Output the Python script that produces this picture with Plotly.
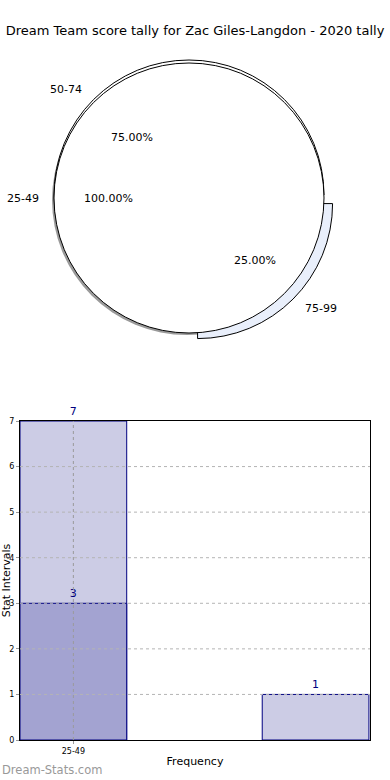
import math
import plotly.graph_objects as go

# ---------------- data ----------------
title_text = "Dream Team score tally for Zac Giles-Langdon - 2020 tally"

pie_a_labels = ["25-49"]
pie_a_values = [100.0]

pie_b_labels = ["50-74", "75-99"]
pie_b_values = [75.0, 25.0]
pie_b_pull = [0.0, 0.09]

bar_light_slots = [0, 2.27]
bar_light_values = [7, 1]
bar_dark_slots = [0]
bar_dark_values = [3]
x_tick_vals = [0]
x_tick_text = ["25-49"]
y_ticks = [0, 1, 2, 3, 4, 5, 6, 7]

# ---------------- layout constants ----------------
W, H = 390, 780
FONT = "DejaVu Sans"
R = 135  # pie radius, px


def pie_domain(cx, cy, r, pull=0.0):
    half = r * (1 + pull)
    return dict(x=[(cx - half) / W, (cx + half) / W],
                y=[1 - (cy + half) / H, 1 - (cy - half) / H])


fig = go.Figure()

# shadow of the full pie
fig.add_trace(go.Pie(labels=pie_a_labels, values=pie_a_values, sort=False,
                     marker=dict(colors=["#9a9a9a"], line=dict(width=0)),
                     textinfo="none", hoverinfo="skip", showlegend=False,
                     domain=pie_domain(187, 200, R)))
# pie B (50-74 / 75-99) with exploded slice
fig.add_trace(go.Pie(labels=pie_b_labels, values=pie_b_values, sort=False,
                     direction="clockwise", rotation=180, pull=pie_b_pull,
                     marker=dict(colors=["#ffffff", "#e9effb"],
                                 line=dict(color="#000000", width=1)),
                     textinfo="none", hoverinfo="skip", showlegend=False,
                     domain=pie_domain(189, 195, R, max(pie_b_pull))))
# pie A (25-49, 100%)
fig.add_trace(go.Pie(labels=pie_a_labels, values=pie_a_values, sort=False,
                     marker=dict(colors=["#ffffff"], line=dict(color="#000000", width=1)),
                     textinfo="none", hoverinfo="skip", showlegend=False,
                     domain=pie_domain(189, 198, R)))

annotations = []


def pie_texts(labels, values, cx, cy, pulls=None):
    total = sum(values)
    start = 0.0
    for i, (lab, v) in enumerate(zip(labels, values)):
        frac = v / total
        mid = math.radians((start + frac / 2) * 360)  # ccw from east
        start += frac
        p = pulls[i] if pulls else 0.0
        c, s = math.cos(mid), math.sin(mid)
        lx = cx + (1.1 + p) * R * c
        ly = cy - (1.1 + p) * R * s
        px_ = cx + (0.6 + p) * R * c
        py_ = cy - (0.6 + p) * R * s
        annotations.append(dict(x=lx / W, y=1 - ly / H, xref="paper", yref="paper",
                                text=lab, showarrow=False,
                                xanchor="right" if c < -1e-9 else ("left" if c > 1e-9 else "center"),
                                yanchor="middle",
                                font=dict(family=FONT, size=11, color="#000")))
        annotations.append(dict(x=px_ / W, y=1 - py_ / H, xref="paper", yref="paper",
                                text=f"{frac * 100:.2f}%", showarrow=False,
                                xanchor="center", yanchor="middle",
                                font=dict(family=FONT, size=11, color="#000")))


pie_texts(pie_a_labels, pie_a_values, 189, 198)
pie_texts(pie_b_labels, pie_b_values, 189, 195, pie_b_pull)

# ---------------- bars ----------------
fig.add_trace(go.Bar(x=bar_light_slots, y=bar_light_values, width=1,
                     text=[str(v) for v in bar_light_values], textposition="outside",
                     cliponaxis=False,
                     textfont=dict(family=FONT, size=11, color="#000080"),
                     marker=dict(color="#ccccE5", line=dict(color="#000080", width=1)),
                     hoverinfo="skip", showlegend=False))
fig.add_trace(go.Bar(x=bar_dark_slots, y=bar_dark_values, width=1,
                     text=[str(v) for v in bar_dark_values], textposition="outside",
                     cliponaxis=False,
                     textfont=dict(family=FONT, size=11, color="#000080"),
                     marker=dict(color="#a3a3d1", line=dict(color="#000080", width=1)),
                     hoverinfo="skip", showlegend=False))

x_range = [-0.5, 2.78]

shapes = []
for yv in y_ticks[1:-1]:
    shapes.append(dict(type="line", xref="x domain", yref="y", x0=0, x1=1, y0=yv, y1=yv,
                       line=dict(color="#b4b4b4", width=1, dash="dot"), layer="above"))
for xv in x_tick_vals:
    shapes.append(dict(type="line", xref="x", yref="y domain", x0=xv, x1=xv, y0=0, y1=1,
                       line=dict(color="#9a9a9a", width=1, dash="dot"), layer="above"))

annotations.append(dict(x=0, y=1 - 770 / H, xref="paper", yref="paper", text="Dream-Stats.com",
                        showarrow=False, xanchor="left", yanchor="middle",
                        font=dict(family=FONT, size=11.5, color="#999999")))

fig.update_layout(
    width=W, height=H,
    margin=dict(l=0, r=0, t=0, b=0),
    paper_bgcolor="#ffffff", plot_bgcolor="#ffffff",
    barmode="overlay",
    title=dict(text=title_text, x=0.5, xanchor="center", y=1 - 30 / H, yanchor="middle",
               font=dict(family=FONT, size=13, color="#000")),
    font=dict(family=FONT, color="#000"),
    xaxis=dict(domain=[20 / W, 370 / W], range=x_range, tickmode="array",
               tickvals=x_tick_vals, ticktext=x_tick_text, tickfont=dict(size=8, color="#000"),
               ticks="outside", ticklen=3, tickcolor="#999", showgrid=False, zeroline=False,
               showline=True, mirror=True, linecolor="#000", linewidth=1, automargin=False,
               title=dict(text="Frequency", font=dict(size=11, color="#000"), standoff=2)),
    yaxis=dict(domain=[1 - 740 / H, 1 - 421 / H], range=[0, 7], tickmode="array",
               tickvals=y_ticks, tickfont=dict(size=8, color="#000"),
               ticks="outside", ticklen=3, tickcolor="#999", showgrid=False, zeroline=False,
               showline=True, mirror=True, linecolor="#000", linewidth=1, automargin=False,
               title=dict(text="Stat Intervals", font=dict(size=11, color="#000"), standoff=2)),
    shapes=shapes,
    annotations=annotations,
)

fig.write_html("out.html", config={"displayModeBar": False},
               post_script="document.body.style.margin='0px';")
